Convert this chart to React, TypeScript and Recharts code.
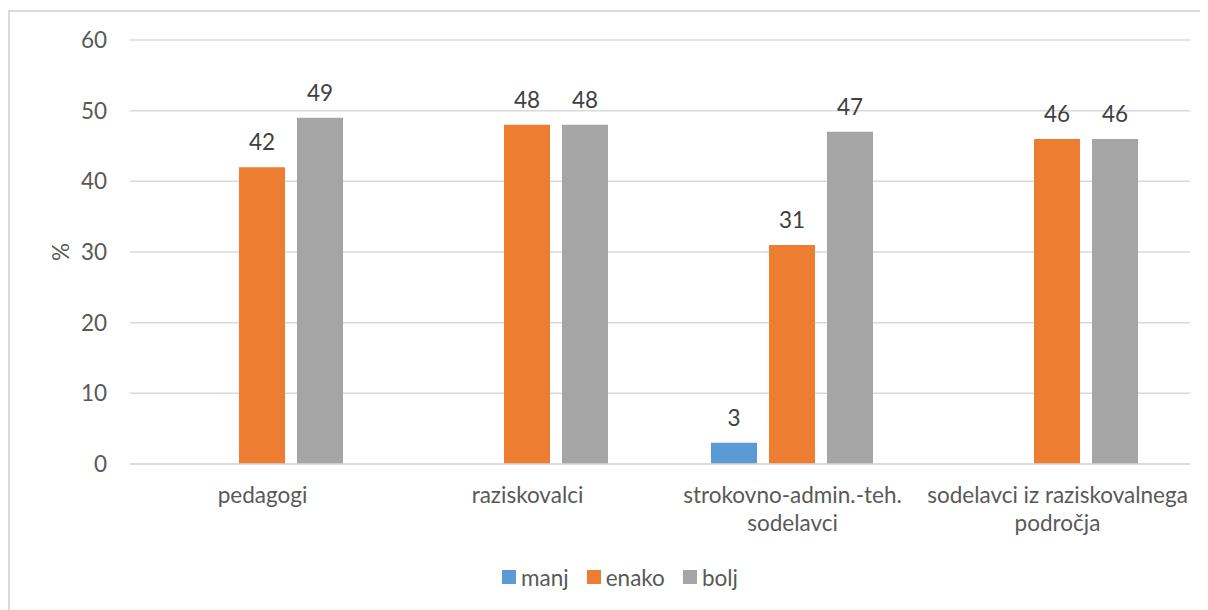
import React from "react";
import {
  BarChart,
  Bar,
  XAxis,
  YAxis,
  CartesianGrid,
  Legend,
  LabelList,
} from "recharts";

const categories = [
  "pedagogi",
  "raziskovalci",
  "strokovno-admin.-teh.\nsodelavci",
  "sodelavci iz raziskovalnega\npodročja",
];
const manj: (number | null)[] = [null, null, 3, null];
const enako = [42, 48, 31, 46];
const bolj = [49, 48, 47, 46];
const yTicks = [0, 10, 20, 30, 40, 50, 60];

const FONT = "Lato, 'Open Sans', sans-serif";
const FONT_SIZE = 22.5;
const AXIS_TEXT = "#595959";
const LABEL_TEXT = "#404040";
const GRID = "#d9d9d9";

const series = [
  { key: "manj", name: "manj", color: "#5b9bd5" },
  { key: "enako", name: "enako", color: "#ed7d31" },
  { key: "bolj", name: "bolj", color: "#a5a5a5" },
];

const data = categories.map((name, i) => ({
  name,
  manj: manj[i],
  enako: enako[i],
  bolj: bolj[i],
}));

function CategoryTick(props: any) {
  const { x, y, payload } = props;
  const lines = String(payload.value).split("\n");
  return (
    <g transform={`translate(${x},${y})`}>
      {lines.map((line: string, i: number) => (
        <text
          key={i}
          x={0}
          y={0}
          dy={39 + i * 28}
          textAnchor="middle"
          fill={AXIS_TEXT}
          fontSize={FONT_SIZE}
          fontFamily={FONT}
        >
          {line}
        </text>
      ))}
    </g>
  );
}

function PercentLabel(props: any) {
  const { viewBox } = props;
  const cx = 52;
  const cy = viewBox.y + viewBox.height / 2;
  return (
    <text
      x={cx}
      y={cy}
      transform={`rotate(-90, ${cx}, ${cy})`}
      textAnchor="middle"
      dominantBaseline="central"
      fill={AXIS_TEXT}
      fontSize={FONT_SIZE}
      fontFamily={FONT}
    >
      %
    </text>
  );
}

function LegendContent() {
  return (
    <div
      style={{
        display: "flex",
        justifyContent: "center",
        alignItems: "center",
        gap: 18,
        height: 30,
        paddingLeft: 0,
        fontFamily: FONT,
        fontSize: FONT_SIZE,
        color: AXIS_TEXT,
      }}
    >
      {series.map((s) => (
        <div key={s.key} style={{ display: "flex", alignItems: "center" }}>
          <span
            style={{
              display: "inline-block",
              width: 14,
              height: 14,
              background: s.color,
              marginRight: 5,
            }}
          />
          <span>{s.name}</span>
        </div>
      ))}
    </div>
  );
}

export default function App() {
  return (
    <div style={{ position: "relative", width: 1200, height: 602, overflow: "hidden" }}>
      <div
        style={{
          position: "absolute",
          left: 0,
          top: 2,
          width: 1400,
          height: 800,
          borderLeft: `2px solid ${GRID}`,
          borderTop: `2px solid ${GRID}`,
          boxSizing: "border-box",
        }}
      />
      <div style={{ position: "absolute", left: 0, top: 0 }}>
        <BarChart
          width={1200}
          height={600}
          data={data}
          margin={{ top: 32, right: 18, left: 42, bottom: 16 }}
          barCategoryGap={51}
          barGap={12}
        >
          <CartesianGrid vertical={false} stroke={GRID} strokeWidth={1.5} />
          <XAxis
            dataKey="name"
            height={98}
            interval={0}
            tickLine={false}
            tickSize={0}
            tickMargin={0}
            axisLine={{ stroke: GRID, strokeWidth: 1.5 }}
            tick={<CategoryTick />}
          />
          <YAxis
            width={80}
            domain={[0, 60]}
            ticks={yTicks}
            interval={0}
            axisLine={false}
            tickLine={false}
            tickSize={0}
            tickMargin={23}
            tick={{ fontSize: FONT_SIZE, fill: AXIS_TEXT, fontFamily: FONT }}
            label={<PercentLabel />}
          />
          <Legend verticalAlign="bottom" content={<LegendContent />} />
          {series.map((s) => (
            <Bar
              key={s.key}
              dataKey={s.key}
              name={s.name}
              fill={s.color}
              isAnimationActive={false}
            >
              <LabelList
                dataKey={s.key}
                position="top"
                offset={17}
                fill={LABEL_TEXT}
                fontSize={FONT_SIZE}
                fontFamily={FONT}
              />
            </Bar>
          ))}
        </BarChart>
      </div>
    </div>
  );
}
